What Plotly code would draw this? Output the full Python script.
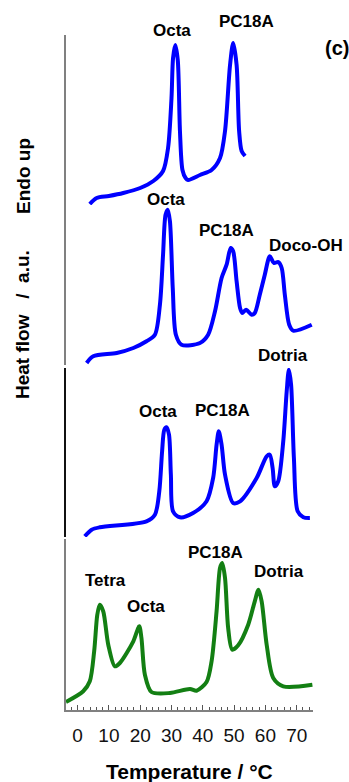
import plotly.graph_objects as go

# ---- data (temperature in °C, heat flow in a.u.) ----
t1 = [3.9, 6.1, 10.0, 14.6, 20.0, 24.2, 27.3, 28.9, 30.0, 30.5, 31.2, 32.0, 32.7, 33.5, 34.5, 35.3,
      39.1, 42.8, 45.5, 47.1, 48.7, 49.7, 50.8, 51.6, 52.4, 53.5]
h1 = [-1, 5, 7, 10, 15, 22, 32, 55, 105, 145, 158, 143, 72, 33, 25, 23,
      28, 33, 45, 72, 138, 160, 138, 72, 52, 47]

t2 = [2.9, 5.0, 12.5, 17.8, 22.0, 24.7, 26.3, 27.3, 28.1, 28.8, 29.5, 30.4, 31.4, 33.2, 39.1,
      41.7, 43.9, 46.0, 47.6, 48.9, 49.7, 50.8, 51.9, 52.6, 53.8, 55.6, 56.6, 58.2, 59.8,
      61.4, 62.7, 64.1, 65.2, 66.2, 67.6, 68.9, 74.8]
h2 = [0, 6.7, 10, 15, 21.7, 28.3, 58.3, 108.3, 148.3, 153.3, 141.7, 75, 28.3, 18.3, 20,
      28.3, 51.7, 85, 98.3, 115, 111.7, 81.7, 55, 50, 53.3, 48.3, 50, 68.3, 88.3,
      106.7, 100, 101, 95, 68.3, 38.3, 32.3, 38.3]

t3 = [2.3, 4.5, 7.1, 22.0, 24.7, 26.1, 27.0, 27.7, 28.4, 29.2, 29.8, 30.5, 32.7, 36.9, 41.2,
      43.3, 44.4, 45.1, 46.0, 47.1, 49.7, 51.9, 57.2, 60.4, 61.4, 62.3, 63.0, 64.1, 65.7,
      66.8, 67.5, 68.2, 69.1, 70.3, 72.1, 74.2]
h3 = [-1.3, 5.3, 7.7, 13.7, 20.3, 43.7, 83.7, 105.3, 107.7, 100.3, 60.3, 23.7, 17.7, 22, 33.7,
      57, 90.3, 103.7, 90.3, 60.3, 32, 33.7, 57, 78.7, 80.3, 67, 48.7, 53.7, 93.7,
      143.7, 165.3, 150.3, 77, 23.7, 17.7, 17]

t4 = [-3.7, 1.8, 3.9, 5.3, 6.3, 7.1, 8.2, 9.8, 11.9, 13.5, 17.8, 19.7, 20.4, 21.5, 23.6, 29.5,
      35.9, 38.0, 41.2, 42.8, 44.4, 45.5, 46.2, 47.1, 48.1, 49.4, 51.3, 54.5, 56.6, 57.8,
      58.8, 60.4, 62.5, 65.7, 75.0]
h4 = [6, 16.7, 26.7, 56.7, 93.3, 103.3, 96.7, 63.3, 41.7, 45, 66.7, 81.7, 70, 33.3, 16, 15,
      19, 17.3, 26, 46.7, 96.7, 140, 145, 130, 80, 58.3, 62.7, 83.3, 106.7, 118.3,
      106.7, 63.3, 30, 21.7, 23.3]

# peak labels: (text, temperature, heat flow)
labels1 = [("Octa", 30.0, 173), ("PC18A", 53.8, 182)]
labels2 = [("Octa", 28.4, 163), ("PC18A", 47.6, 132), ("Doco-OH", 73.0, 117)]
labels3 = [("Dotria", 65.7, 180), ("Octa", 25.6, 124), ("PC18A", 46.3, 125)]
labels4 = [("Tetra", 9.0, 128), ("Octa", 22.0, 102), ("PC18A", 43.9, 156), ("Dotria", 64.4, 137)]

x_ticks = [0, 10, 20, 30, 40, 50, 60, 70]

BLUE = "#0000ff"
GREEN = "#137f13"
FONT = "Liberation Sans, Arial, sans-serif"

Y_LO = -2
tops = {"y": 168, "y2": 170, "y3": 167, "y4": 169}

fig = go.Figure()
series = [(t1, h1, "y", BLUE), (t2, h2, "y2", BLUE), (t3, h3, "y3", BLUE), (t4, h4, "y4", GREEN)]
for t, h, ya, col in series:
    fig.add_trace(go.Scatter(x=t, y=h, xaxis="x", yaxis=ya, mode="lines",
                             line=dict(color=col, width=4, shape="spline", smoothing=0.8),
                             showlegend=False, hoverinfo="skip"))

annotations = []
for labs, ya in [(labels1, "y"), (labels2, "y2"), (labels3, "y3"), (labels4, "y4")]:
    for txt, tx, ty in labs:
        annotations.append(dict(text=txt, x=tx, y=(ty - Y_LO) / (tops[ya] - Y_LO),
                                xref="x", yref=ya + " domain", showarrow=False,
                                xanchor="center", yanchor="middle",
                                font=dict(family=FONT, size=17, color="black", weight="bold")))

annotations.append(dict(text="(c)", x=(336.7 - 66) / 247, y=(710 - 48) / 710, xref="paper", yref="paper",
                        showarrow=False, xanchor="center", yanchor="middle",
                        font=dict(family=FONT, size=20, color="black", weight="bold")))
for txt, yc in [("Heat flow   /  a.u.", 325), ("Endo up", 176)]:
    annotations.append(dict(text=txt, x=(23 - 66) / 247, y=(710 - yc) / 710,
                            xref="paper", yref="paper", showarrow=False, textangle=-90,
                            xanchor="center", yanchor="middle",
                            font=dict(family=FONT, size=19, color="black", weight="bold")))
annotations.append(dict(text="Temperature / °C", x=(189 - 66) / 247, y=(710 - 771) / 710,
                        xref="paper", yref="paper", showarrow=False,
                        xanchor="center", yanchor="middle",
                        font=dict(family=FONT, size=21, color="black", weight="bold")))

def yax(dom, top, col="#808080"):
    return dict(domain=dom, range=[Y_LO, top], anchor="x", showline=True, linecolor=col, linewidth=1.5,
                showticklabels=False, ticks="", showgrid=False, zeroline=False, fixedrange=True)

fig.update_layout(
    width=349, height=782,
    margin=dict(l=66, r=36, t=0, b=72),
    paper_bgcolor="white", plot_bgcolor="rgba(0,0,0,0)",
    xaxis=dict(domain=[0, 1], range=[-3.7, 75.2], anchor="y4",
               tickvals=x_ticks, ticktext=[str(v) for v in x_ticks],
               ticks="inside", ticklen=5, tickcolor="#555555", tickwidth=1,
               minor=dict(dtick=2, tick0=0, ticks="inside", ticklen=3, tickcolor="#555555"),
               showline=True, linecolor="#808080", linewidth=1.5,
               showgrid=False, zeroline=False, ticklabelstandoff=7,
               tickfont=dict(family=FONT, size=19, color="#111111")),
    yaxis=yax([(710 - 205) / 710, (710 - 35) / 710], tops["y"]),
    yaxis2=yax([(710 - 365) / 710, (710 - 193) / 710], tops["y2"]),
    yaxis3=yax([(710 - 537) / 710, (710 - 368) / 710], tops["y3"], "#111111"),
    yaxis4=yax([0, (710 - 539) / 710], tops["y4"]),
    annotations=annotations,
)

fig.write_html("out.html")
